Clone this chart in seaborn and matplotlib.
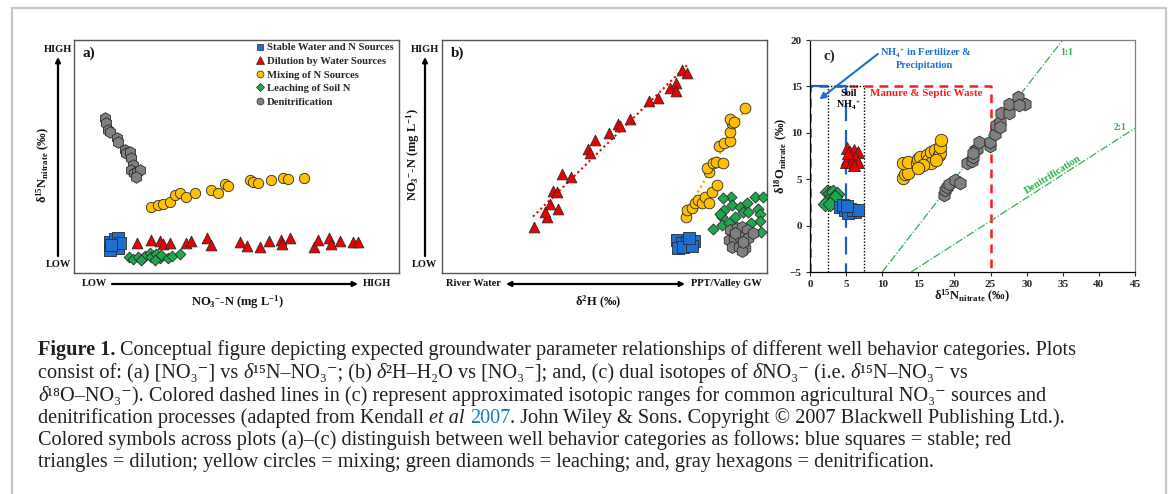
import matplotlib
matplotlib.use('Agg')
import pandas as pd
import matplotlib.pyplot as plt
import seaborn as sns
from matplotlib.patches import Rectangle
from matplotlib.lines import Line2D

# ==================== Global Settings ====================
sns.set_style("white")
plt.rcParams['font.family'] = ['Liberation Serif', 'DejaVu Serif']
plt.rcParams['mathtext.fontset'] = 'custom'
plt.rcParams['mathtext.rm'] = 'Liberation Serif'
plt.rcParams['mathtext.it'] = 'Liberation Serif:italic'
plt.rcParams['mathtext.bf'] = 'Liberation Serif:bold'

W, H = 1173, 494

BLUE = '#1f6fd0'
RED = '#ee0000'
YELLOW = '#ffc000'
GREEN = '#1fa84f'
GRAY = '#808080'
LINE_GREEN = '#2fb050'

# ==================== Data: panel a (arbitrary 0-100 scale) ====================
A_STABLE_X = [11.0, 12.5, 13.5, 12.0, 13.5, 11.0, 14.3, 11.5]
A_STABLE_Y = [13.4, 14.4, 14.9, 11.3, 10.6, 9.9, 12.7, 12.0]
A_DIL_X = [19.4, 23.8, 26.4, 27.4, 29.4, 34.6, 36.1, 40.9, 42.3, 51.2, 53.2, 57.1,
           60.0, 63.8, 64.1, 66.4, 73.7, 75.1, 78.5, 79.2, 81.9, 85.8, 87.4]
A_DIL_Y = [12.7, 14.2, 13.9, 12.4, 13.0, 12.7, 13.6, 14.9, 12.0, 13.2, 11.6, 11.0,
           13.9, 14.2, 12.4, 14.9, 11.3, 14.2, 14.9, 12.4, 13.9, 13.2, 13.4]
A_MIX_X = [23.8, 25.8, 27.4, 29.4, 31.0, 32.5, 34.6, 37.1, 42.3, 44.3, 46.4, 47.4,
           54.1, 55.1, 56.6, 60.7, 64.3, 65.8, 70.7]
A_MIX_Y = [28.5, 29.2, 29.6, 30.6, 33.5, 34.2, 32.8, 34.2, 35.6, 34.5, 38.2, 37.3,
           39.9, 39.2, 38.8, 39.9, 40.6, 40.2, 40.6]
A_LEACH_X = [16.9, 18.2, 19.7, 21.2, 21.7, 23.3, 23.8, 25.3, 26.4, 26.9, 28.9, 30.3, 32.5, 20.7, 24.8]
A_LEACH_Y = [6.7, 5.9, 7.0, 6.3, 7.3, 8.4, 6.7, 8.2, 6.3, 7.6, 6.3, 7.3, 8.2, 5.6, 5.6]
A_DENIT_X = [9.4, 9.7, 10.5, 11.0, 13.2, 13.5, 15.6, 16.1, 17.1, 17.6, 18.2, 17.6, 18.4, 19.4, 20.2, 19.0]
A_DENIT_Y = [66.4, 64.2, 61.4, 60.7, 57.8, 56.4, 52.8, 51.4, 52.1, 49.2, 46.4, 44.2, 42.8, 43.5, 44.2, 41.3]

# ==================== Data: panel b (arbitrary 0-100 scale) ====================
B_STABLE_X = [72.2, 73.7, 75.3, 77.4, 72.7, 74.3, 76.8, 76.1]
B_STABLE_Y = [14.2, 12.7, 13.4, 13.9, 10.6, 11.3, 11.6, 14.9]
B_DIL_X = [28.2, 32.2, 31.7, 33.3, 35.8, 34.3, 35.5, 36.9, 39.7, 44.9, 45.4, 47.2,
           51.3, 54.0, 54.8, 57.9, 63.6, 66.6, 70.0, 72.1, 72.1, 73.7, 75.3]
B_DIL_Y = [19.9, 24.2, 26.3, 29.6, 27.3, 35.3, 34.9, 42.5, 41.3, 53.1, 51.4, 57.1,
           59.9, 63.9, 63.2, 66.1, 73.8, 75.0, 79.3, 81.7, 78.3, 87.1, 86.0]
B_DIL_TREND_X = [28.0, 75.5]
B_DIL_TREND_Y = [24.2, 89.3]
B_MIX_X = [75.1, 75.5, 76.8, 77.9, 78.9, 79.9, 81.0, 82.3, 83.0, 84.6, 82.0, 81.5,
           83.3, 84.4, 86.6, 85.1, 86.8, 88.7, 88.5, 89.2, 88.7, 89.7, 93.2]
B_MIX_Y = [24.2, 27.0, 27.8, 29.9, 31.3, 29.9, 32.8, 30.2, 34.9, 37.8, 43.5, 44.9,
           47.1, 47.8, 47.1, 54.5, 55.7, 56.7, 60.7, 64.2, 66.0, 65.0, 70.7]
B_MIX_TREND_X = [75.3, 92.5]
B_MIX_TREND_Y = [26.3, 68.5]
B_LEACH_X = [83.5, 86.1, 86.8, 88.9, 89.2, 86.1, 88.2, 91.8, 92.7, 93.7, 94.2, 96.3,
             97.3, 97.9, 97.9, 98.9, 98.1, 95.0, 86.4, 90.2, 85.4]
B_LEACH_Y = [18.7, 24.2, 27.0, 32.8, 29.2, 20.6, 21.3, 28.5, 26.3, 29.9, 26.3, 32.8,
             27.3, 25.3, 22.5, 32.8, 17.7, 21.6, 32.0, 24.2, 25.3]
B_DENIT_X = [88.7, 90.7, 92.3, 93.7, 88.2, 89.7, 91.8, 94.2, 95.8, 89.2, 91.3, 93.2, 92.3, 90.2, 92.7]
B_DENIT_Y = [18.5, 19.2, 19.9, 18.5, 14.2, 14.9, 15.6, 14.9, 17.0, 11.3, 11.3, 10.6, 9.6, 17.0, 13.4]

# ==================== Data: panel c (permil) ====================
C_STABLE_X = [4.2, 4.8, 5.5, 6.2, 4.6, 5.3, 5.9, 6.6, 5.1]
C_STABLE_Y = [2.0, 1.7, 1.8, 1.5, 2.2, 1.4, 1.7, 1.7, 2.1]
C_DIL_X = [5.1, 5.5, 6.1, 6.6, 6.2, 5.6, 5.1, 5.0, 5.8, 6.6, 6.1, 5.3]
C_DIL_Y = [8.4, 7.9, 8.2, 7.9, 7.4, 7.2, 7.2, 6.9, 6.8, 6.9, 6.5, 7.8]
C_MIX_X = [12.9, 13.2, 13.6, 12.9, 13.5, 14.8, 15.0, 15.2, 16.2, 16.4, 16.8, 17.3,
           17.8, 18.0, 18.0, 18.2, 16.7, 15.7, 14.9, 17.5]
C_MIX_Y = [5.1, 5.6, 5.7, 6.7, 6.9, 6.7, 7.2, 7.4, 7.6, 7.1, 7.9, 8.1,
           7.6, 7.8, 8.5, 9.2, 6.7, 6.5, 6.2, 7.1]
C_LEACH_X = [2.3, 2.8, 3.2, 3.7, 2.5, 3.0, 3.5, 2.1, 2.8]
C_LEACH_Y = [3.6, 3.5, 3.6, 3.4, 2.7, 2.5, 3.1, 2.3, 2.3]
C_DENIT_X = [18.5, 18.7, 18.9, 19.2, 20.1, 20.8, 21.7, 22.4, 22.6, 22.8, 23.1, 23.4,
             22.5, 24.9, 24.9, 25.6, 25.8, 26.3, 26.5, 27.5, 27.5, 28.8, 29.8, 29.0, 26.3]
C_DENIT_Y = [3.3, 3.8, 4.2, 4.5, 4.9, 4.6, 6.7, 7.0, 7.4, 8.1, 8.3, 9.0,
             7.8, 8.6, 9.0, 9.9, 10.8, 11.2, 12.1, 12.1, 13.1, 13.9, 13.1, 13.0, 10.6]

# source boxes and reference lines in panel c
MANURE_X = [0, 0, 25, 25]
MANURE_Y = [-5, 15, 15, -5]
SOIL_X = [2.5, 2.5, 7.5, 7.5]
SOIL_Y = [-5, 15, 15, -5]
FERT_X = [0, 5, 5]
FERT_Y = [15, 15, -5]
ONE_ONE_X = [10, 35]
ONE_ONE_Y = [-5, 20]
TWO_ONE_X = [14, 45]
TWO_ONE_Y = [-5, 10.5]

C_XTICKS = [0, 5, 10, 15, 20, 25, 30, 35, 40, 45]
C_YTICKS = [-5, 0, 5, 10, 15, 20]

LEGEND_LABELS = ['Stable Water and N Sources', 'Dilution by Water Sources',
                 'Mixing of N Sources', 'Leaching of Soil N', 'Denitrification']

# ==================== Figure ====================
fig = plt.figure(figsize=(W / 100, H / 100), dpi=100)
renderer = fig.canvas.get_renderer()


def fx(px):
    return px / W


def fy(py):
    return 1 - py / H


def ftext(x, y, s, **kw):
    kw.setdefault('ha', 'center')
    kw.setdefault('va', 'center')
    return fig.text(fx(x), fy(y), s, **kw)


def farrow(x0, y0, x1, y1, style='-|>'):
    fig.axes[0].annotate('', xy=(fx(x1), fy(y1)), xytext=(fx(x0), fy(y0)),
                         xycoords='figure fraction', textcoords='figure fraction',
                         arrowprops=dict(arrowstyle=style, color='black', lw=1.6,
                                         mutation_scale=7, shrinkA=0, shrinkB=0),
                         annotation_clip=False)


# outer frame of the figure page
fig.add_artist(Rectangle((fx(12), -0.1), fx(1166) - fx(12), fy(8) + 0.1,
                         transform=fig.transFigure, fill=False,
                         edgecolor='#c8c8c8', lw=1.6))

ax_a = fig.add_axes([fx(74), fy(273), fx(399) - fx(74), fy(40) - fy(273)])
ax_b = fig.add_axes([fx(442), fy(273), fx(767) - fx(442), fy(40) - fy(273)])
ax_c = fig.add_axes([fx(810), fy(272), fx(1135) - fx(810), fy(40) - fy(272)])

EDGE = '#2a2a2a'


def scatter(ax, xs, ys, marker, color, s):
    sns.scatterplot(x=xs, y=ys, marker=marker, color=color, s=s, edgecolor=EDGE,
                    linewidth=0.6, ax=ax, legend=False, zorder=3)


# ---------- panel a ----------
scatter(ax_a, A_DENIT_X, A_DENIT_Y, 'h', GRAY, 70)
scatter(ax_a, A_MIX_X, A_MIX_Y, 'o', YELLOW, 55)
scatter(ax_a, A_STABLE_X, A_STABLE_Y, 's', BLUE, 65)
scatter(ax_a, A_LEACH_X, A_LEACH_Y, 'D', GREEN, 30)
scatter(ax_a, A_DIL_X, A_DIL_Y, '^', RED, 60)

handles = [Line2D([], [], marker='s', color=BLUE, mec=EDGE, mew=0.5, ls='', ms=5),
           Line2D([], [], marker='^', color=RED, mec=EDGE, mew=0.5, ls='', ms=5.5),
           Line2D([], [], marker='o', color=YELLOW, mec=EDGE, mew=0.5, ls='', ms=5),
           Line2D([], [], marker='D', color=GREEN, mec=EDGE, mew=0.5, ls='', ms=3.8),
           Line2D([], [], marker='o', color=GRAY, mec=EDGE, mew=0.5, ls='', ms=5)]
ax_a.legend(handles, LEGEND_LABELS, loc='upper left', bbox_to_anchor=(fx(256), fy(43)),
            bbox_transform=fig.transFigure, frameon=False, handlelength=0.8,
            handletextpad=0.25, labelspacing=0.38, borderpad=0, borderaxespad=0,
            prop={'family': 'Liberation Serif', 'weight': 'bold', 'size': 7.7})

# ---------- panel b ----------
ax_b.plot(B_DIL_TREND_X, B_DIL_TREND_Y, ls=(0, (1, 1.5)), color=RED, lw=1.5, zorder=2)
ax_b.plot(B_MIX_TREND_X, B_MIX_TREND_Y, ls=(0, (1, 1.5)), color='#f2ae00', lw=1.6, zorder=2)
scatter(ax_b, B_DIL_X, B_DIL_Y, '^', RED, 60)
scatter(ax_b, B_MIX_X, B_MIX_Y, 'o', YELLOW, 60)
scatter(ax_b, B_LEACH_X, B_LEACH_Y, 'D', GREEN, 32)
scatter(ax_b, B_DENIT_X, B_DENIT_Y, 'h', GRAY, 75)
scatter(ax_b, B_STABLE_X, B_STABLE_Y, 's', BLUE, 70)

for ax in (ax_a, ax_b):
    ax.set_xlim(0, 100)
    ax.set_ylim(0, 100)
    ax.set_xticks([])
    ax.set_yticks([])
    for sp in ax.spines.values():
        sp.set_color('#555555')
        sp.set_linewidth(1.0)

# ---------- panel c ----------
ax_c.plot(MANURE_X, MANURE_Y, color='#ff1a1a', lw=1.8, ls=(0, (3.5, 2.5)), zorder=2)
ax_c.plot(SOIL_X, SOIL_Y, color='black', lw=1.0, ls=(0, (1, 1.3)), zorder=2)
ax_c.plot(FERT_X, FERT_Y, color='#1f5fbf', lw=1.6, ls=(0, (8, 4)), zorder=2)
ax_c.plot(ONE_ONE_X, ONE_ONE_Y, color=LINE_GREEN, lw=0.9, ls='-.', zorder=2)
ax_c.plot(TWO_ONE_X, TWO_ONE_Y, color=LINE_GREEN, lw=0.9, ls='-.', zorder=2)

scatter(ax_c, C_LEACH_X, C_LEACH_Y, 'D', GREEN, 55)
scatter(ax_c, C_STABLE_X, C_STABLE_Y, 's', BLUE, 75)
scatter(ax_c, C_DIL_X, C_DIL_Y, '^', RED, 75)
scatter(ax_c, C_MIX_X, C_MIX_Y, 'o', YELLOW, 80)
scatter(ax_c, C_DENIT_X, C_DENIT_Y, 'h', GRAY, 85)

ax_c.set_xlim(0, 45)
ax_c.set_ylim(-5, 20)
ax_c.set_xticks(C_XTICKS)
ax_c.set_yticks(C_YTICKS)
ax_c.tick_params(direction='out', length=3, width=0.8, labelsize=8, pad=3,
                 bottom=True, left=True)
for lab in ax_c.get_xticklabels() + ax_c.get_yticklabels():
    lab.set_fontweight('bold')
ax_c.spines['left'].set_color('black')
ax_c.spines['bottom'].set_color('black')
ax_c.spines['top'].set_color('#808080')
ax_c.spines['right'].set_color('#808080')
for sp in ax_c.spines.values():
    sp.set_linewidth(0.9)

ax_c.annotate('', xy=(1.3, 13.6), xytext=(9.4, 18.5),
              arrowprops=dict(arrowstyle='-|>', color='#1f6fd0', lw=1.5, mutation_scale=9,
                              shrinkA=0, shrinkB=0))
ax_c.text(16.1, 18.6, r'NH$_{\mathbf{4}}$$^{\mathbf{+}}$ in Fertilizer &', color='#1f6fd0',
          fontsize=7.5, fontweight='bold', ha='center', va='center')
ax_c.text(15.9, 17.3, 'Precipitation', color='#1f6fd0', fontsize=7.5, fontweight='bold',
          ha='center', va='center')
ax_c.text(5.4, 14.25, 'Soil', color='black', fontsize=7.3, fontweight='bold',
          ha='center', va='center')
ax_c.text(5.3, 12.9, r'NH$_{\mathbf{4}}$$^{\mathbf{+}}$', color='black', fontsize=7.3,
          fontweight='bold', ha='center', va='center')
ax_c.text(16.1, 14.25, 'Manure & Septic Waste', color='#ff1a1a', fontsize=7.9,
          fontweight='bold', ha='center', va='center')
ax_c.text(35.6, 18.7, '1:1', color=LINE_GREEN, fontsize=7, fontweight='bold',
          ha='center', va='center')
ax_c.text(43.0, 10.6, '2:1', color=LINE_GREEN, fontsize=7, fontweight='bold',
          ha='center', va='center')
ax_c.text(33.6, 5.5, 'Denitrification', color=LINE_GREEN, fontsize=7.5, fontweight='bold',
          ha='center', va='center', rotation=32)
ax_c.text(0.04, 0.93, 'c)', transform=ax_c.transAxes, fontsize=11, fontweight='bold',
          ha='left', va='center')

# ---------- labels outside panels ----------
BOLD = dict(fontweight='bold', color='#111111')
ftext(89, 53, 'a)', fontsize=11, **BOLD)
ftext(458, 53, 'b)', fontsize=11, **BOLD)

# panel a axes descriptions
ftext(58, 49, 'HIGH', fontsize=7.5, **BOLD)
ftext(58, 264, 'LOW', fontsize=7.5, **BOLD)
farrow(58, 256, 58, 57)
ftext(43, 165, r'δ$^{\mathbf{15}}$N$_{\mathbf{nitrate}}$ (‰)', fontsize=9, rotation=90, **BOLD)
ftext(94, 284, 'LOW', fontsize=7.5, **BOLD)
ftext(377, 284, 'HIGH', fontsize=7.5, **BOLD)
farrow(112, 284, 358, 284)
ftext(237, 302, r'NO$_{\mathbf{3}}$$^{\mathbf{-}}$-N (mg L$^{\mathbf{-1}}$)', fontsize=9, **BOLD)

# panel b axes descriptions
ftext(425, 49, 'HIGH', fontsize=7.5, **BOLD)
ftext(425, 264, 'LOW', fontsize=7.5, **BOLD)
farrow(425, 256, 425, 57)
ftext(413, 155, r'NO$_{\mathbf{3}}$$^{\mathbf{-}}$-N (mg L$^{\mathbf{-1}}$)', fontsize=9,
      rotation=90, **BOLD)
ftext(473, 284, 'River Water', fontsize=7.5, **BOLD)
ftext(726, 284, 'PPT/Valley GW', fontsize=7.5, **BOLD)
farrow(506, 284, 685, 284, style='<|-|>')
ftext(598, 302, r'δ$^{\mathbf{2}}$H (‰)', fontsize=9, **BOLD)

# panel c axis labels
ftext(781, 156, r'δ$^{\mathbf{18}}$O$_{\mathbf{nitrate}}$ (‰)', fontsize=9, rotation=90, **BOLD)
ftext(972, 296, r'δ$^{\mathbf{15}}$N$_{\mathbf{nitrate}}$ (‰)', fontsize=9, **BOLD)

# ==================== Caption ====================
CAP_FS = 14.6
CAP_COLOR = '#231f20'
LINK = '#1a7fc1'
CAP_X = 38
GAP = CAP_FS * 100 / 72 * 0.25
SP = (' ',)
D = ('δ', CAP_COLOR, 'italic')


def caption_line(y, segments):
    # segments: (text,) gap, or (text, color[, style, weight]); placed one after another
    x = CAP_X
    for seg in segments:
        if seg[0] == ' ':
            x += GAP
            continue
        s, color = seg[0], seg[1]
        style = seg[2] if len(seg) > 2 else 'normal'
        weight = seg[3] if len(seg) > 3 else 'normal'
        t = fig.text(fx(x), fy(y), s, ha='left', va='baseline', fontsize=CAP_FS,
                     color=color, style=style, fontweight=weight)
        x = t.get_window_extent(renderer).x1


caption_line(355, [('Figure 1.', CAP_COLOR, 'normal', 'bold'), SP,
                   ('Conceptual figure depicting expected groundwater parameter relationships '
                    'of different well behavior categories. Plots', CAP_COLOR)])
caption_line(378, [('consist of: (a) [NO₃⁻] vs', CAP_COLOR), SP, D, ('¹⁵N–NO₃⁻; (b)', CAP_COLOR), SP,
                   D, ('²H–H₂O vs [NO₃⁻]; and, (c) dual isotopes of', CAP_COLOR), SP, D,
                   ('NO₃⁻ (i.e.', CAP_COLOR), SP, D, ('¹⁵N–NO₃⁻ vs', CAP_COLOR)])
caption_line(400.5, [D, ('¹⁸O–NO₃⁻). Colored dashed lines in (c) represent approximated isotopic '
                         'ranges for common agricultural NO₃⁻ sources and', CAP_COLOR)])
caption_line(422.5, [('denitrification processes (adapted from Kendall', CAP_COLOR), SP,
                     ('et al', CAP_COLOR, 'italic'), SP, ('2007', LINK),
                     ('. John Wiley & Sons. Copyright © 2007 Blackwell Publishing Ltd.).', CAP_COLOR)])
caption_line(445, [('Colored symbols across plots (a)–(c) distinguish between well behavior '
                    'categories as follows: blue squares = stable; red', CAP_COLOR)])
caption_line(467, [('triangles = dilution; yellow circles = mixing; green diamonds = leaching; '
                    'and, gray hexagons = denitrification.', CAP_COLOR)])

fig.savefig('out.png', dpi=100)
